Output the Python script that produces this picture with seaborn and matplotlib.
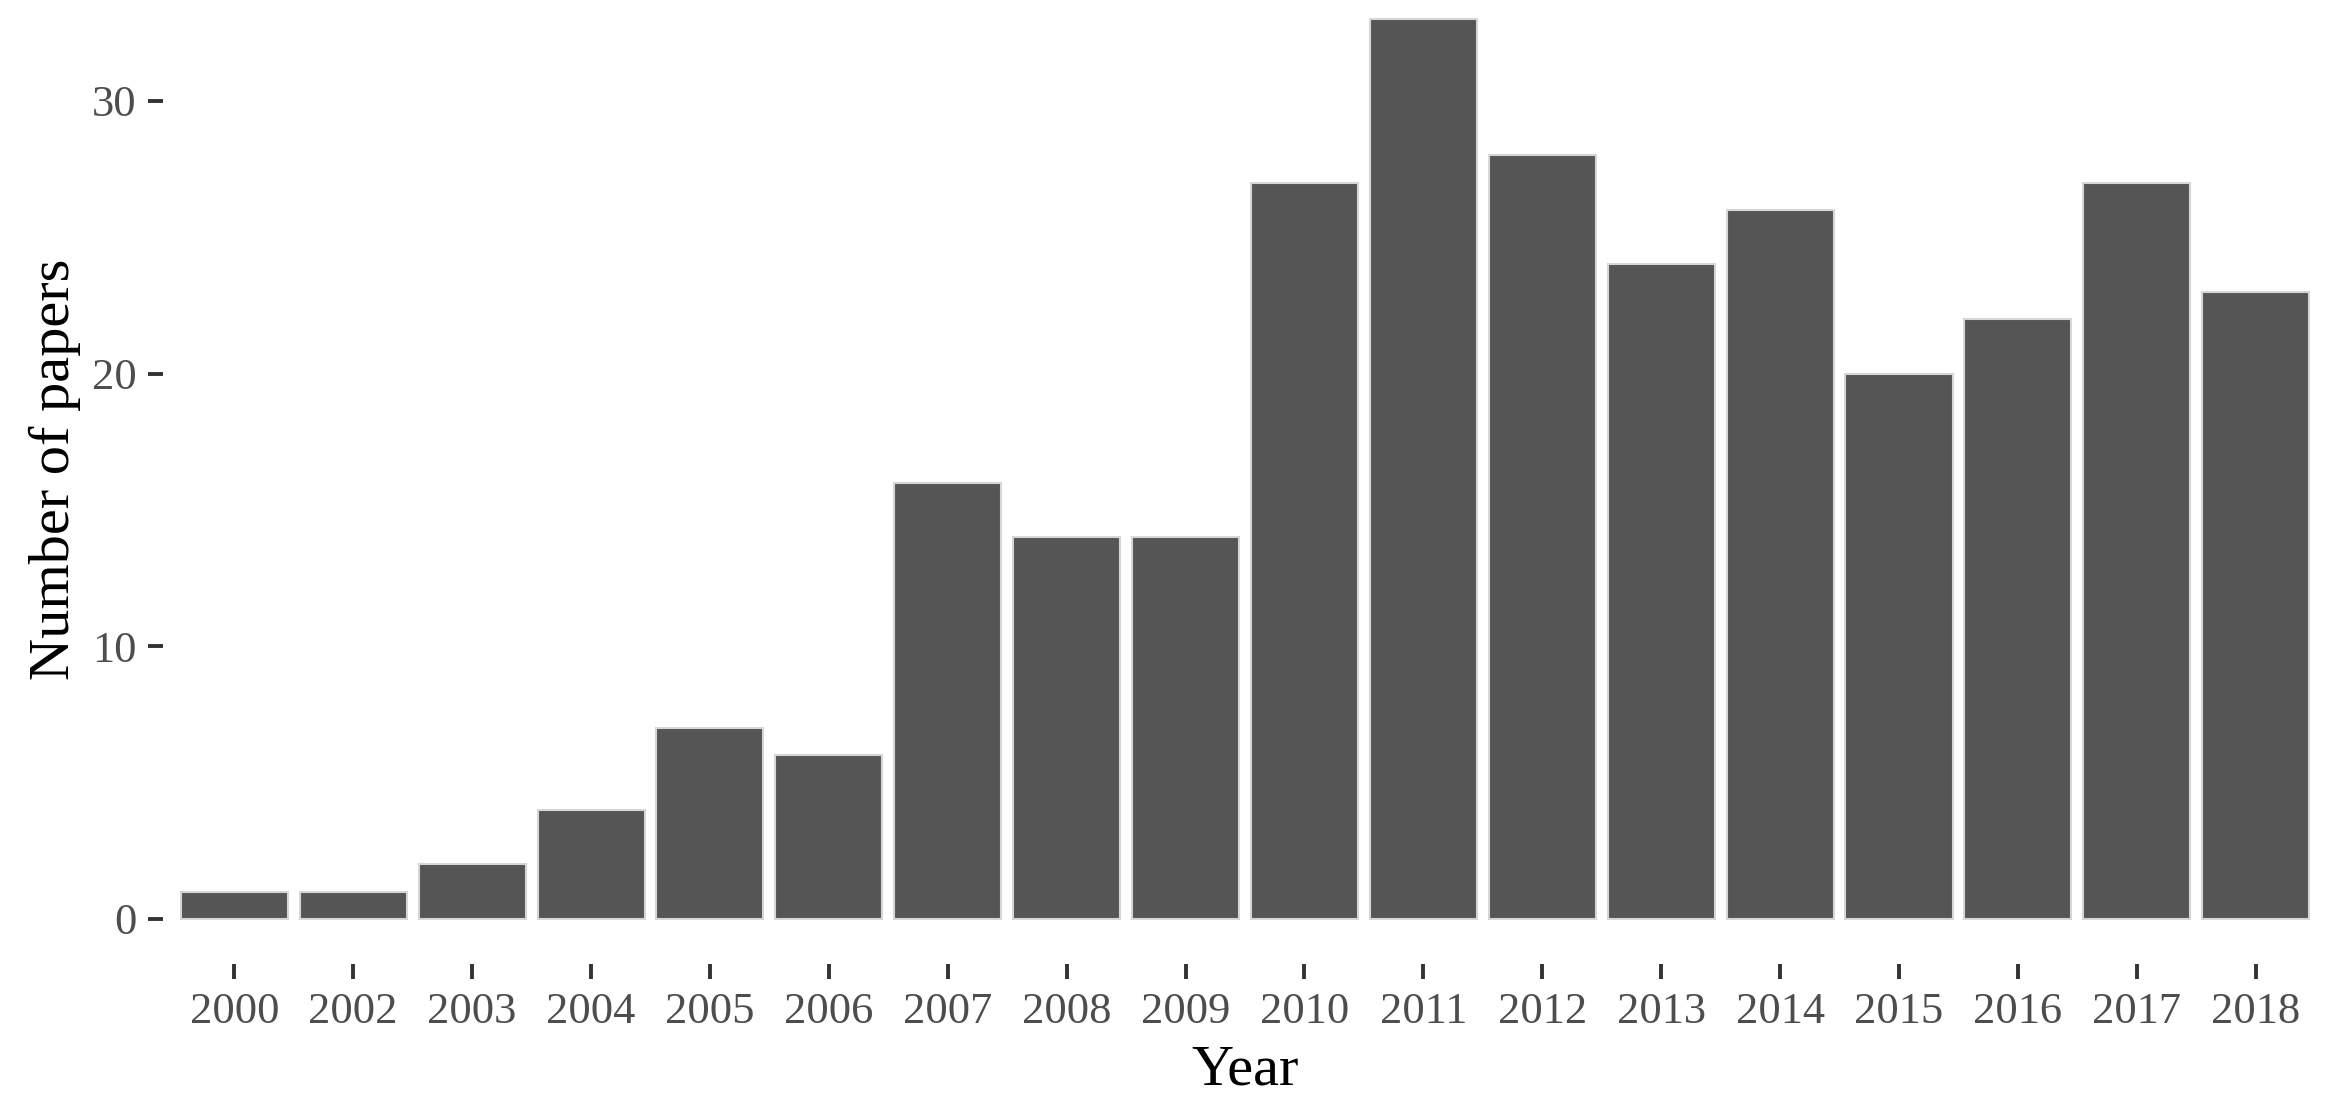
import matplotlib
matplotlib.use("Agg")
import matplotlib.pyplot as plt
import seaborn as sns
import pandas as pd

# values
years = ["2000", "2002", "2003", "2004", "2005", "2006", "2007", "2008", "2009",
         "2010", "2011", "2012", "2013", "2014", "2015", "2016", "2017", "2018"]
papers = [1, 1, 2, 4, 7, 6, 16, 14, 14, 27, 33, 28, 24, 26, 20, 22, 27, 23]
y_ticks = [0, 10, 20, 30]

df = pd.DataFrame({"Year": years, "papers": papers})

sns.set_style("white")
plt.rcParams["font.family"] = ["Liberation Serif", "DejaVu Serif"]

fig = plt.figure(figsize=(23.35, 11.12), dpi=100)
ax = fig.add_axes([0.0698, 0.1331, 0.9268, 0.8903])

sns.barplot(data=df, x="Year", y="papers", order=years, color="#555555",
            saturation=1, width=0.9, edgecolor="#d6d6d6", linewidth=1.5, ax=ax)

ax.set_xlim(-0.6, len(years) - 0.4)
ax.set_ylim(-1.65, 34.65)
ax.set_yticks(y_ticks)

for s in ax.spines.values():
    s.set_visible(False)
ax.grid(False)

ax.tick_params(axis="both", which="major", bottom=True, left=True, length=11,
               width=2.8, color="#333333", labelsize=32, labelcolor="#4d4d4d",
               direction="out")
ax.tick_params(axis="x", pad=9)
ax.tick_params(axis="y", pad=8)

ax.set_xlabel("Year", fontsize=42, color="black", labelpad=9)
ax.set_ylabel("Number of papers", fontsize=42, color="black", labelpad=8)

fig.savefig("out.png", dpi=100)
